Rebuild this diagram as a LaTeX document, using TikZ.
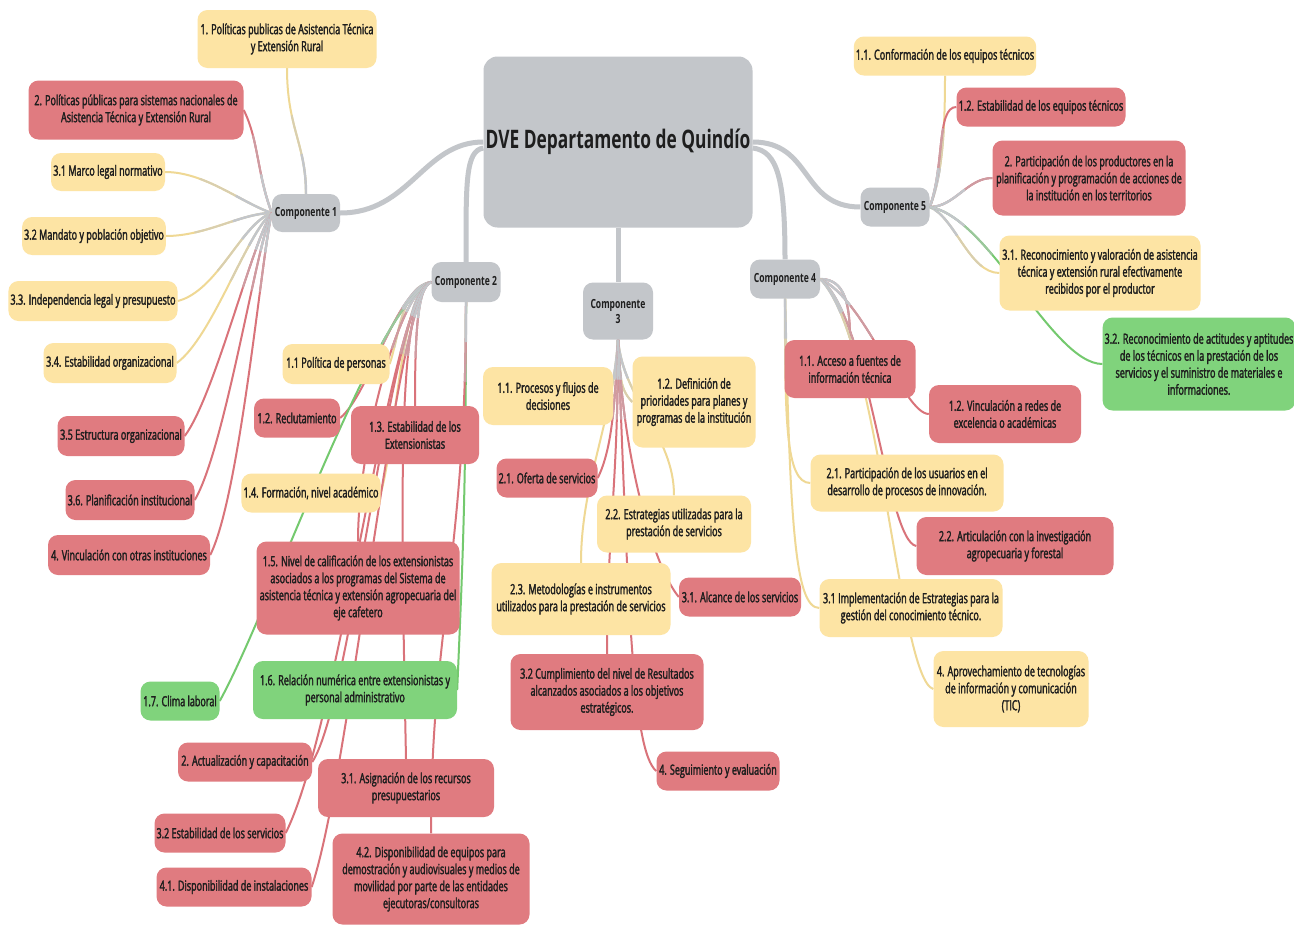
\documentclass[tikz,border=0pt]{standalone}
\usepackage{fontspec}
\setmainfont{Open Sans}[FakeStretch=0.68]
\newfontfamily\bxfont{Open Sans}[FakeStretch=0.645,FakeBold=2]
\usetikzlibrary{backgrounds,calc}
\definecolor{ngray}{HTML}{C3C6CA}
\definecolor{nyel}{HTML}{FDE4A4}
\definecolor{nred}{HTML}{E07B80}
\definecolor{ngrn}{HTML}{80D37C}
\definecolor{lgray}{HTML}{C3C6CA}
\definecolor{lyel}{HTML}{EFD894}
\definecolor{lred}{HTML}{D9737A}
\definecolor{lgrn}{HTML}{74C96E}
\definecolor{txt}{HTML}{1E1E1E}
\newcommand{\lnk}[2]{%
  \draw[line width=2pt, draw=#1] #2;
  \draw[line width=2pt, draw=#1!50!lgray, dash pattern=on 80pt off 5000pt] #2;
  \draw[line width=2.4pt, draw=lgray, dash pattern=on 40pt off 5000pt] #2;
}
\tikzset{
  base/.style={rounded corners=10pt, align=center, inner sep=2pt, text=txt,
    font=\bxfont\fontsize{14}{17}\selectfont},
  sz/.style 2 args={minimum width=#1pt, minimum height=#2pt},
  yb/.style={base, fill=nyel},
  rb/.style={base, fill=nred},
  gb/.style={base, fill=ngrn},
  comp/.style={base, fill=ngray, font=\bfseries\fontsize{12.6}{15}\selectfont},
  trunk/.style={draw=lgray, line width=5pt},
}
\begin{document}
\begin{tikzpicture}[x=1pt,y=-1pt]
\useasboundingbox (0,0) rectangle (1294,926);
% root and components
\node[base, fill=ngray, sz={269}{171}, rounded corners=14pt,
  font=\bfseries\fontsize{25.5}{28}\selectfont] (root) at (618,142) {DVE Departamento de Quindío};
\node[comp, sz={68}{38}] (c1) at (306,213) {Componente 1};
\node[comp, sz={69}{40}] (c2) at (466,282) {Componente 2};
\node[comp, sz={70}{57}] (c3) at (618,311) {Componente\\3};
\node[comp, sz={70}{39}] (c4) at (785,279) {Componente 4};
\node[comp, sz={69}{39}] (c5) at (895,207) {Componente 5};
% component 1
\node[yb, sz={179}{58}] (k1) at (287,39) {1. Políticas publicas de Asistencia Técnica\\y Extensión Rural};
\node[rb, sz={215}{59}] (k2) at (136,110) {2. Políticas públicas para sistemas nacionales de\\Asistencia Técnica y Extensión Rural};
\node[yb, sz={114}{38}] (k31) at (108,172) {3.1 Marco legal normativo};
\node[yb, sz={143}{38}] (k32) at (94,236) {3.2 Mandato y población objetivo};
\node[yb, sz={167}{40}] (k33) at (93,301) {3.3. Independencia legal y presupuesto};
\node[yb, sz={133}{40}] (k34) at (110,363) {3.4. Estabilidad organizacional};
\node[rb, sz={127}{40}] (k35) at (121,436) {3.5 Estructura organizacional};
\node[rb, sz={129}{40}] (k36) at (130,500) {3.6. Planificación institucional};
\node[rb, sz={162}{40}] (k4) at (129,555) {4. Vinculación con otras instituciones};
% component 2
\node[yb, sz={107}{40}] (p11) at (336,364) {1.1 Política de personas};
\node[rb, sz={86}{39}] (p12) at (297,418) {1.2. Reclutamiento};
\node[rb, sz={128}{58}] (p13) at (415,435) {1.3. Estabilidad de los\\Extensionistas};
\node[yb, sz={139}{39}] (p14) at (311,493) {1.4. Formación, nivel académico};
\node[rb, sz={203}{93}] (p15) at (358,588) {1.5. Nivel de calificación de los extensionistas\\asociados a los programas del Sistema de\\asistencia técnica y extensión agropecuaria del\\eje cafetero};
\node[gb, sz={204}{58}] (p16) at (355,690) {1.6. Relación numérica entre extensionistas y\\personal administrativo};
\node[gb, sz={79}{39}] (p17) at (180,701) {1.7. Clima laboral};
\node[rb, sz={134}{39}] (q2) at (245,762) {2. Actualización y capacitación};
\node[rb, sz={176}{58}] (q31) at (406,788) {3.1. Asignación de los recursos\\presupuestarios};
\node[rb, sz={131}{39}] (q32) at (220,833) {3.2 Estabilidad de los servicios};
\node[rb, sz={155}{39}] (q41) at (234,887) {4.1. Disponibilidad de instalaciones};
\node[rb, sz={197}{91}] (q42) at (431,879) {4.2. Disponibilidad de equipos para\\demostración y audiovisuales y medios de\\movilidad por parte de las entidades\\ejecutoras/consultoras};
% component 3
\node[yb, sz={130}{58}] (r11) at (548,396) {1.1. Procesos y flujos de\\decisiones};
\node[yb, sz={123}{91}] (r12) at (694,402) {1.2. Definición de\\prioridades para planes y\\programas de la institución};
\node[rb, sz={101}{39}] (r21) at (547,478) {2.1. Oferta de servicios};
\node[yb, sz={154}{57}] (r22) at (674,524) {2.2. Estrategias utilizadas para la\\prestación de servicios};
\node[yb, sz={179}{72}] (r23) at (581,599) {2.3. Metodologías e instrumentos\\utilizados para la prestación de servicios};
\node[rb, sz={122}{39}] (r31) at (740,597) {3.1. Alcance de los servicios};
\node[rb, sz={193}{76}] (r32) at (607,692) {3.2 Cumplimiento del nivel de Resultados\\alcanzados asociados a los objetivos\\estratégicos.};
\node[rb, sz={123}{39}] (r4) at (718,771) {4. Seguimiento y evaluación};
% component 4
\node[rb, sz={131}{58}] (s11) at (850,369) {1.1. Acceso a fuentes de\\información técnica};
\node[rb, sz={152}{58}] (s12) at (1005,414) {1.2. Vinculación a redes de\\excelencia o académicas};
\node[yb, sz={193}{57}] (s21) at (907,483) {2.1. Participación de los usuarios en el\\desarrollo de procesos de innovación.};
\node[rb, sz={197}{58}] (s22) at (1015,546) {2.2. Articulación con la investigación\\agropecuaria y forestal};
\node[yb, sz={183}{58}] (s31) at (911,608) {3.1 Implementación de Estrategias para la\\gestión del conocimiento técnico.};
\node[yb, sz={155}{76}] (s4) at (1011,689) {4. Aprovechamiento de tecnologías\\de información y comunicación\\(TIC)};
% component 5
\node[yb, sz={181}{39}] (t11) at (945,56) {1.1. Conformación de los equipos técnicos};
\node[rb, sz={169}{39}] (t12) at (1041,107) {1.2. Estabilidad de los equipos técnicos};
\node[rb, sz={193}{75}] (t2) at (1089,178) {2. Participación de los productores en la\\planificación y programación de acciones de\\la institución en los territorios};
\node[yb, sz={201}{75}] (t31) at (1100,273) {3.1. Reconocimiento y valoración de asistencia\\técnica y extensión rural efectivamente\\recibidos por el productor};
\node[gb, sz={190}{93}] (t32) at (1199,364) {3.2. Reconocimiento de actitudes y aptitudes\\de los técnicos en la prestación de los\\servicios y el suministro de materiales e\\informaciones.};
\begin{scope}[on background layer]
\fill[white] (0,0) rectangle (1294,926);
% trunks
\draw[trunk] (root.west) .. controls +(-60,0) and +(70,0) .. (c1.east);
\draw[trunk] ($(root.west)+(0,6)$) .. controls +(-18,3) and +(0,-80) .. (c2.north);
\draw[trunk] (root.south) -- (c3.north);
\draw[trunk] ($(root.east)+(0,6)$) .. controls +(25,3) and +(0,-80) .. (c4.north);
\draw[trunk] (root.east) .. controls +(60,0) and +(-60,0) .. (c5.west);
% component 1 links
\lnk{lyel}{(c1.north) .. controls +(0,-50) and +(0,60) .. (k1.south)}
\lnk{lred}{(c1.west) .. controls +(-15,-40) and +(15,30) .. (k2.east)}
\lnk{lyel}{(c1.west) .. controls +(-30,-10) and +(40,0) .. (k31.east)}
\lnk{lyel}{(c1.west) .. controls +(-30,0) and +(40,0) .. (k32.east)}
\lnk{lyel}{(c1.west) .. controls +(-30,10) and +(40,-10) .. (k33.east)}
\lnk{lyel}{(c1.west) .. controls +(-25,20) and +(35,-25) .. (k34.east)}
\lnk{lred}{(c1.west) .. controls +(-20,30) and +(30,-40) .. (k35.east)}
\lnk{lred}{(c1.west) .. controls +(-15,30) and +(30,-50) .. (k36.east)}
\lnk{lred}{(c1.west) .. controls +(-10,40) and +(30,-60) .. (k4.east)}
% component 2 links
\lnk{lyel}{(c2.west) .. controls +(-30,5) and +(10,-30) .. (p11.east)}
\lnk{lred}{(c2.west) .. controls +(-35,5) and +(30,-25) .. (p12.east)}
\lnk{lred}{(c2.west) .. controls +(-15,3) and +(0,-60) .. (p13.north)}
\lnk{lyel}{(c2.west) .. controls +(-30,5) and +(15,-50) .. (p14.east)}
\lnk{lred}{(c2.west) .. controls +(-30,5) and +(0,-100) .. (p15.north)}
\lnk{lgrn}{(c2.south) .. controls +(0,200) and +(5,-120) .. (p16.east)}
\lnk{lgrn}{(c2.west) .. controls +(-55,20) and +(50,-90) .. (p17.east)}
\lnk{lred}{(c2.west) .. controls +(-40,10) and +(40,-60) .. (q2.east)}
\lnk{lred}{(c2.west) .. controls +(-35,10) and +(-5,-250) .. (q31.north)}
\lnk{lred}{(c2.west) .. controls +(-40,10) and +(55,-110) .. (q32.east)}
\lnk{lred}{(c2.west) .. controls +(-35,10) and +(40,-120) .. (q41.east)}
\lnk{lred}{(c2.south) .. controls +(0,250) and +(0,-200) .. (q42.north)}
% component 3 links
\lnk{lyel}{(c3.south) .. controls +(-3,30) and +(15,-15) .. (r11.east)}
\lnk{lyel}{(c3.south) .. controls +(3,30) and +(-15,-15) .. (r12.west)}
\lnk{lred}{(c3.south) .. controls +(-3,60) and +(15,-30) .. (r21.east)}
\lnk{lyel}{(c3.south) .. controls +(5,60) and +(0,-60) .. (r22.north)}
\lnk{lyel}{(c3.south) .. controls +(-5,80) and +(0,-80) .. (r23.north)}
\lnk{lred}{(c3.south) .. controls +(5,120) and +(-25,-30) .. (r31.west)}
\lnk{lred}{(c3.south) .. controls +(0,150) and +(0,-120) .. (r32.north)}
\lnk{lred}{(c3.south) .. controls +(10,250) and +(-25,-20) .. (r4.west)}
% component 4 links
\lnk{lred}{(c4.east) .. controls +(25,0) and +(0,-35) .. (s11.north)}
\lnk{lred}{(c4.east) .. controls +(45,20) and +(-25,0) .. (s12.west)}
\lnk{lyel}{(c4.south) .. controls +(0,120) and +(-25,0) .. (s21.west)}
\lnk{lred}{(c4.east) .. controls +(50,40) and +(-30,-5) .. (s22.west)}
\lnk{lyel}{(c4.south) .. controls +(5,220) and +(-25,0) .. (s31.west)}
\lnk{lyel}{(c4.east) .. controls +(60,60) and +(-35,-10) .. (s4.west)}
% component 5 links
\lnk{lyel}{(c5.east) .. controls +(12,-30) and +(0,60) .. (t11.south)}
\lnk{lred}{(c5.east) .. controls +(15,-40) and +(-20,0) .. (t12.west)}
\lnk{lred}{(c5.east) .. controls +(25,0) and +(-25,0) .. (t2.west)}
\lnk{lyel}{(c5.east) .. controls +(25,10) and +(-30,0) .. (t31.west)}
\lnk{lgrn}{(c5.east) .. controls +(60,10) and +(-50,0) .. (t32.west)}
\end{scope}
\end{tikzpicture}
\end{document}
